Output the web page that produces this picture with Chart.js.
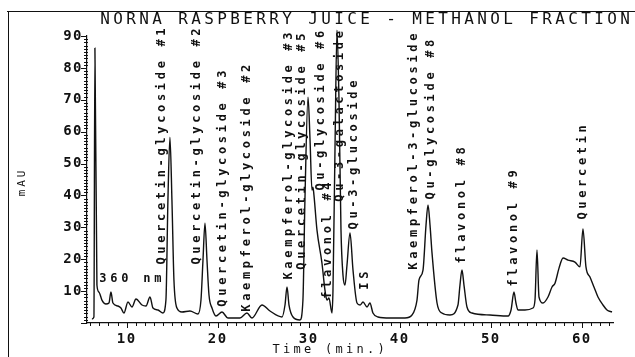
<!DOCTYPE html>
<html>
<head>
<meta charset="utf-8">
<script src="https://cdn.jsdelivr.net/npm/chart.js@4.4.1/dist/chart.umd.min.js"></script>
<style>
  html, body { margin: 0; padding: 0; background: #fff; }
  #wrap { width: 635px; height: 357px; }
</style>
</head>
<body>
<div id="wrap"><canvas id="chart" width="635" height="357"></canvas></div>
<script>
/* chromatogram trace: retention time (min) and absorbance (mAU) */
const times = [6.18, 6.40, 6.51, 6.73, 6.95, 7.28, 7.72, 8.05, 8.27, 8.49, 9.04, 9.37, 9.70, 10.14, 10.58, 11.02,
    11.68, 12.12, 12.56, 12.89, 13.44, 13.98, 14.31, 14.53, 14.75, 14.97, 15.19, 15.52, 16.07, 16.95, 17.83, 18.16,
    18.38, 18.60, 18.82, 19.04, 19.37, 19.81, 20.47, 21.12, 22.44, 23.21, 23.76, 24.86, 25.74, 27.06, 27.39, 27.61,
    27.83, 28.27, 29.03, 29.36, 29.58, 29.92, 30.14, 30.35, 30.46, 30.57, 30.90, 31.45, 31.78, 32.00, 32.22, 32.55,
    32.66, 32.88, 33.10, 33.32, 33.54, 33.76, 33.98, 34.20, 34.53, 34.86, 35.30, 35.63, 35.96, 36.40, 36.72, 37.05,
    37.60, 38.92, 40.57, 41.34, 41.89, 42.11, 42.55, 42.88, 43.10, 43.32, 43.54, 44.09, 44.63, 45.51, 46.39, 46.61,
    46.83, 47.05, 47.38, 47.93, 49.91, 51.89, 52.22, 52.54, 52.76, 52.98, 53.75, 54.63, 54.85, 55.07, 55.29, 55.73,
    56.28, 56.72, 57.05, 57.49, 57.93, 58.48, 59.24, 59.79, 60.12, 60.45, 60.89, 61.33, 61.77, 62.32, 62.76, 63.31];
const absorb = [1.25, 1.88, 86.2, 11.9, 9.7, 7.2, 5.96, 6.27, 9.7, 6.27, 5.33, 4.70, 3.13, 6.58, 5.02, 7.52,
    5.64, 5.33, 8.15, 4.70, 4.08, 3.13, 7.2, 38.6, 58.3, 38.6, 13.5, 4.70, 3.45, 3.76, 2.82, 7.2,
    19.7, 31.3, 19.7, 8.78, 4.70, 2.19, 3.45, 1.57, 1.57, 3.13, 1.57, 5.64, 3.76, 1.88, 5.64, 11.3,
    5.64, 1.88, 0.94, 7.2, 38.6, 70.8, 57.4, 41.7, 42.6, 40.1, 29.2, 18.8, 10.3, 7.2, 7.84, 3.13,
    10.3, 54.2, 91.8, 69.9, 29.2, 15.0, 11.9, 18.2, 28.2, 16.6, 6.27, 5.64, 6.58, 5.02, 6.27, 3.13,
    1.88, 1.57, 1.57, 2.51, 7.2, 13.5, 16.6, 30.7, 37.0, 30.7, 21.9, 6.27, 3.13, 2.51, 5.64, 11.9,
    16.6, 11.9, 5.02, 3.13, 2.51, 2.19, 4.08, 9.7, 6.27, 4.08, 4.08, 4.70, 7.2, 22.9, 8.15, 6.27,
    8.15, 11.3, 12.5, 17.2, 20.4, 19.7, 19.1, 17.6, 29.5, 17.6, 14.4, 11.3, 8.15, 5.64, 4.08, 3.45];

/* peak annotations: name, retention time, mAU level where the text starts */
const peakNames = ['Quercetin-glycoside #1', 'Quercetin-glycoside #2', 'Quercetin-glycoside #3',
    'Kaempferol-glycoside #2', 'Kaempferol-glycoside #3', 'Quercetin-glycoside #5', 'Qu-glycoside #6',
    'flavonol #4', 'Qu-3-galactoside', 'Qu-3-glucoside', 'IS', 'Kaempferol-3-glucoside',
    'Qu-glycoside #8', 'flavonol #8', 'flavonol #9', 'Quercetin'];
const peakTimes = [13.87, 17.72, 20.58, 23.21, 27.83, 29.25, 31.34, 32.05, 33.43, 34.97, 36.17, 41.56,
    43.43, 46.83, 52.54, 60.12];
const peakLevels = [18.2, 18.2, 5.0, 3.4, 13.5, 16.6, 41.4, 7.5, 37.9, 29.2, 10.3, 16.6,
    38.6, 18.5, 11.3, 32.3];

const xTickLabels = [10, 20, 30, 40, 50, 60];
const yTickLabels = [10, 20, 30, 40, 50, 60, 70, 80, 90];

const MONO = '"DejaVu Sans Mono", "Liberation Mono", monospace';
const INK = '#111';

/* plotter style text: one glyph at a time with a fixed advance */
function plotterText(ctx, str, x, y, adv, font, angle) {
    ctx.save();
    ctx.translate(x, y);
    ctx.rotate(angle);
    ctx.font = font + ' ' + MONO;
    ctx.fillStyle = INK;
    ctx.textAlign = 'center';
    ctx.textBaseline = 'middle';
    for (let i = 0; i < str.length; i++) {
        ctx.fillText(str[i], i * adv, 0);
    }
    ctx.restore();
}

function seg(ctx, x1, y1, x2, y2) {
    ctx.beginPath();
    ctx.moveTo(x1, y1);
    ctx.lineTo(x2, y2);
    ctx.stroke();
}

const plotterPlugin = {
    id: 'plotter',
    beforeDraw(chart) {
        chart.ctx.letterSpacing = '1.5px';
    },
    beforeDatasetsDraw(chart) {
        chart.ctx.letterSpacing = '0px';
    },
    afterDraw(chart) {
        const ctx = chart.ctx;
        const xs = chart.scales.x, ys = chart.scales.y;
        const left = chart.chartArea.left, bottom = chart.chartArea.bottom;
        ctx.save();
        ctx.letterSpacing = '0px';
        ctx.strokeStyle = INK;
        ctx.lineWidth = 1;

        // frame of the page
        seg(ctx, 8.5, 11, 8.5, 357);
        seg(ctx, 7, 11.5, 635, 11.5);

        // minute ticks under the time axis
        for (let t = Math.ceil(xs.min); t <= xs.max; t++) {
            const px = Math.round(xs.getPixelForValue(t)) + 0.5;
            seg(ctx, px, bottom, px, bottom + (t % 10 === 0 ? 5 : 3));
        }
        // 1 mAU ticks on the absorbance axis
        for (let v = 0; v <= ys.max; v++) {
            const py = Math.round(ys.getPixelForValue(v)) + 0.5;
            if (v % 10 === 0) seg(ctx, left - 6, py, left, py);
            else seg(ctx, left - 3, py, left + 1, py);
        }

        // title and axis titles
        plotterText(ctx, 'NORNA RASPBERRY JUICE - METHANOL FRACTION', 105, 20, 13.0, '16px', 0);
        plotterText(ctx, 'Time (min.)', 276, 350, 10.5, '12px', 0);
        plotterText(ctx, 'mAU', 22, 193, 9.5, '11px', -Math.PI / 2);
        plotterText(ctx, '360 nm', xs.getPixelForValue(6.95) + 4, ys.getPixelForValue(13.8), 11, 'bold 12px', 0);

        // peak names, written upward from their start level
        peakNames.forEach((name, i) => {
            const px = xs.getPixelForValue(peakTimes[i]);
            const py = ys.getPixelForValue(peakLevels[i]);
            plotterText(ctx, name, px, py - 4, 10.9, 'bold 12px', -Math.PI / 2);
        });
        ctx.restore();
    }
};

new Chart(document.getElementById('chart'), {
    type: 'line',
    data: {
        datasets: [{
            label: 'A360',
            data: times.map((t, i) => ({ x: t, y: absorb[i] })),
            borderColor: INK,
            borderWidth: 1.4,
            pointRadius: 0,
            fill: false,
            cubicInterpolationMode: 'monotone',
            clip: false
        }]
    },
    options: {
        responsive: false,
        animation: false,
        devicePixelRatio: 1,
        layout: { padding: { top: 36, right: 22, left: 0, bottom: 0 } },
        plugins: {
            legend: { display: false },
            tooltip: { enabled: false }
        },
        scales: {
            x: {
                type: 'linear',
                min: 5.64,
                max: 63.42,
                grid: { display: false, drawTicks: false },
                border: { display: true, color: INK, width: 1.2 },
                ticks: {
                    autoSkip: false,
                    maxRotation: 0,
                    padding: 8,
                    color: INK,
                    font: { family: MONO, size: 14, weight: 'bold' }
                },
                afterBuildTicks: s => { s.ticks = xTickLabels.map(v => ({ value: v })); },
                afterFit: s => { s.height = 34; }
            },
            y: {
                min: 0,
                max: 90,
                grid: { display: false, drawTicks: false },
                border: { display: true, color: INK, width: 1.2 },
                ticks: {
                    autoSkip: false,
                    padding: 4,
                    color: INK,
                    font: { family: MONO, size: 14, weight: 'bold' }
                },
                afterBuildTicks: s => { s.ticks = yTickLabels.map(v => ({ value: v })); },
                afterFit: s => { s.width = 87; }
            }
        }
    },
    plugins: [plotterPlugin]
});
</script>
</body>
</html>
